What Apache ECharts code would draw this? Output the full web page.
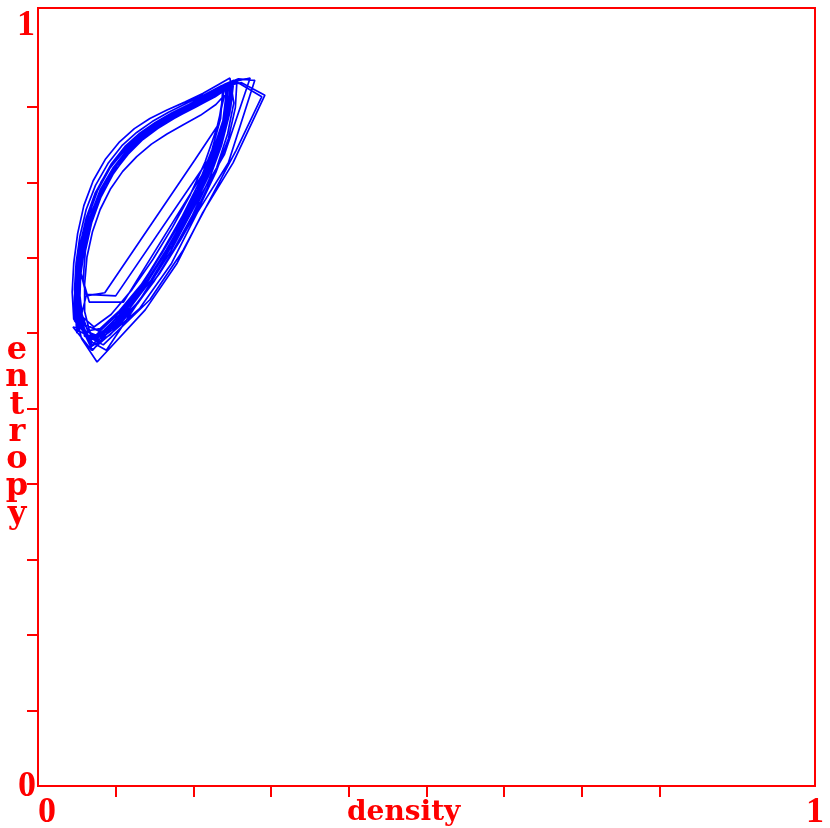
<!DOCTYPE html>
<html><head><meta charset="utf-8">
<script src="https://cdn.jsdelivr.net/npm/echarts@6/dist/echarts.min.js"></script>
<style>html,body{margin:0;padding:0;background:#fff}#c{width:830px;height:828px}</style>
</head><body><div id="c"></div>
<script>
const xTickValues = [0.1, 0.2, 0.3, 0.4, 0.5, 0.6, 0.7, 0.8];
const yTickValues = [0.097, 0.194, 0.291, 0.388, 0.485, 0.582, 0.679, 0.776, 0.873];
const xEndLabels = ['0', '1'];
const yEndLabels = ['0', '1'];
const xAxisName = 'density';
const yAxisName = 'entropy';
// [density, entropy] trajectory
const trajectory = [
[0.054,0.590],[0.051,0.620],[0.052,0.655],[0.058,0.692],[0.066,0.728],[0.079,0.762],[0.096,0.792],[0.114,0.816],[0.130,0.834],[0.148,0.847],[0.169,0.860],[0.190,0.869],[0.207,0.878],[0.230,0.891],[0.245,0.900],
[0.240,0.860],[0.227,0.815],[0.209,0.772],[0.186,0.729],[0.160,0.686],[0.133,0.642],[0.102,0.607],[0.078,0.585],
[0.046,0.600],[0.044,0.635],[0.046,0.672],[0.051,0.710],[0.059,0.746],[0.071,0.778],[0.087,0.806],[0.105,0.828],[0.124,0.845],[0.144,0.858],[0.166,0.869],[0.189,0.879],[0.212,0.890],[0.233,0.902],[0.247,0.910],
[0.252,0.878],[0.244,0.838],[0.230,0.795],[0.209,0.750],[0.184,0.705],[0.157,0.660],[0.128,0.620],[0.098,0.588],[0.076,0.572],
[0.058,0.595],[0.054,0.630],[0.055,0.664],[0.061,0.700],[0.070,0.735],[0.083,0.768],[0.100,0.797],[0.118,0.821],[0.136,0.839],[0.155,0.852],[0.177,0.865],[0.200,0.876],[0.222,0.888],[0.240,0.902],[0.252,0.907],
[0.248,0.872],[0.236,0.828],[0.219,0.783],[0.197,0.738],[0.172,0.694],[0.146,0.651],[0.118,0.614],[0.090,0.584],[0.068,0.578],
[0.060,0.610],[0.060,0.645],[0.063,0.680],[0.070,0.712],[0.080,0.741],[0.093,0.767],[0.109,0.790],[0.127,0.809],[0.146,0.825],[0.166,0.838],[0.187,0.850],[0.209,0.862],[0.229,0.876],[0.240,0.888],
[0.230,0.845],[0.215,0.802],[0.196,0.760],[0.173,0.718],[0.148,0.677],[0.121,0.638],[0.094,0.606],[0.072,0.590],
[0.049,0.610],[0.048,0.640],[0.051,0.674],[0.057,0.708],[0.066,0.741],[0.078,0.770],[0.093,0.795],[0.110,0.815],[0.128,0.832],[0.147,0.846],[0.167,0.857],[0.188,0.867],[0.209,0.876],[0.228,0.886],[0.243,0.896],
[0.238,0.855],[0.223,0.810],[0.205,0.766],[0.182,0.723],[0.157,0.681],[0.130,0.640],[0.100,0.604],[0.075,0.580],[0.060,0.578],
[0.056,0.598],[0.052,0.632],[0.053,0.667],[0.058,0.703],[0.066,0.738],[0.078,0.770],[0.094,0.799],[0.112,0.822],[0.131,0.839],[0.151,0.853],[0.172,0.865],[0.194,0.876],[0.216,0.888],[0.236,0.899],[0.262,0.904],
[0.292,0.888],[0.251,0.801],[0.212,0.737],[0.179,0.672],[0.138,0.612],[0.076,0.545],[0.056,0.575],
[0.050,0.600],[0.049,0.630],[0.050,0.662],[0.055,0.697],[0.063,0.731],[0.075,0.764],[0.091,0.792],[0.109,0.815],[0.127,0.833],[0.146,0.847],[0.166,0.859],[0.188,0.870],[0.210,0.881],[0.232,0.894],[0.250,0.903],
[0.247,0.866],[0.236,0.823],[0.220,0.779],[0.199,0.734],[0.175,0.690],[0.149,0.648],[0.120,0.610],[0.093,0.580],[0.070,0.566],
[0.046,0.612],[0.052,0.645],[0.057,0.680],[0.064,0.713],[0.073,0.744],[0.086,0.773],[0.102,0.798],[0.120,0.819],[0.139,0.836],[0.159,0.849],[0.180,0.861],[0.202,0.872],[0.224,0.884],[0.241,0.895],
[0.244,0.866],[0.233,0.824],[0.216,0.780],[0.194,0.736],[0.168,0.692],[0.141,0.650],[0.112,0.612],[0.085,0.586],[0.066,0.572],
[0.049,0.605],[0.047,0.638],[0.049,0.672],[0.054,0.707],[0.062,0.741],[0.074,0.772],[0.090,0.800],[0.108,0.823],[0.127,0.840],[0.147,0.854],[0.168,0.866],[0.190,0.877],[0.213,0.888],[0.236,0.900],[0.258,0.909],
[0.279,0.907],[0.245,0.801],[0.205,0.737],[0.172,0.672],[0.131,0.614],[0.069,0.560],[0.045,0.590],
[0.055,0.588],[0.053,0.618],[0.054,0.650],[0.059,0.686],[0.067,0.722],[0.080,0.757],[0.097,0.788],[0.116,0.812],[0.135,0.831],[0.154,0.845],[0.175,0.858],[0.197,0.870],[0.219,0.882],[0.238,0.894],[0.250,0.902],
[0.244,0.868],[0.232,0.826],[0.220,0.806],[0.100,0.630],[0.062,0.632],
[0.055,0.660],[0.059,0.695],[0.068,0.731],[0.081,0.764],[0.098,0.793],[0.116,0.817],[0.134,0.835],[0.152,0.849],[0.173,0.861],[0.195,0.872],[0.217,0.884],[0.236,0.897],[0.248,0.905],
[0.243,0.866],[0.230,0.821],[0.212,0.776],[0.190,0.732],[0.165,0.689],[0.138,0.646],[0.108,0.609],[0.082,0.582],[0.069,0.565],
[0.053,0.605],[0.051,0.640],[0.053,0.676],[0.059,0.712],[0.068,0.746],[0.081,0.776],[0.098,0.803],[0.117,0.825],[0.137,0.841],[0.158,0.854],[0.180,0.866],[0.203,0.877],[0.226,0.890],[0.244,0.903],[0.256,0.906],
[0.254,0.872],[0.245,0.832],[0.229,0.789],[0.208,0.745],[0.183,0.701],[0.156,0.658],[0.126,0.619],[0.097,0.590],[0.074,0.575],
[0.052,0.585],[0.050,0.615],[0.051,0.648],[0.056,0.684],[0.064,0.720],[0.076,0.755],[0.092,0.786],[0.111,0.811],[0.131,0.830],[0.151,0.845],[0.172,0.858],[0.194,0.869],[0.216,0.881],[0.238,0.896],[0.255,0.906],
[0.273,0.910],[0.240,0.812],[0.203,0.748],[0.170,0.686],[0.133,0.628],[0.088,0.560],[0.070,0.570],
[0.053,0.598],[0.050,0.628],[0.053,0.660],[0.058,0.696],[0.067,0.732],[0.080,0.766],[0.097,0.795],[0.116,0.819],[0.135,0.836],[0.155,0.850],[0.176,0.862],[0.198,0.873],[0.220,0.885],[0.238,0.898],
[0.235,0.858],[0.224,0.818],[0.207,0.775],[0.185,0.731],[0.161,0.689],[0.135,0.647],[0.105,0.611],[0.080,0.588],[0.064,0.585],
[0.050,0.625],[0.052,0.660],[0.057,0.697],[0.065,0.733],[0.077,0.766],[0.093,0.795],[0.111,0.819],[0.130,0.837],[0.150,0.851],[0.171,0.863],[0.193,0.874],[0.215,0.885],[0.237,0.897],[0.256,0.905],
[0.288,0.886],[0.255,0.817],[0.221,0.753],[0.187,0.689],[0.144,0.625],[0.084,0.567],[0.060,0.580],
[0.054,0.600],[0.052,0.634],[0.054,0.668],[0.060,0.704],[0.069,0.738],[0.082,0.769],[0.099,0.797],[0.118,0.820],[0.137,0.837],[0.157,0.851],[0.178,0.863],[0.201,0.874],[0.223,0.886],[0.242,0.899],
[0.241,0.864],[0.229,0.824],[0.214,0.790],[0.110,0.622],[0.066,0.622],
[0.058,0.650],[0.061,0.688],[0.069,0.724],[0.081,0.757],[0.097,0.787],[0.115,0.812],[0.134,0.831],[0.153,0.846],[0.174,0.859],[0.196,0.870],[0.219,0.883],[0.239,0.896],[0.251,0.904],
[0.246,0.868],[0.233,0.823],[0.215,0.778],[0.192,0.733],[0.167,0.690],[0.140,0.648],[0.110,0.610],[0.086,0.578],[0.070,0.560],
[0.051,0.600],[0.049,0.635],[0.051,0.670],[0.057,0.706],[0.066,0.740],[0.079,0.772],[0.095,0.800],[0.114,0.823],[0.133,0.840],[0.153,0.853],[0.175,0.865],[0.198,0.876],[0.221,0.888],[0.240,0.899],
[0.232,0.850],[0.202,0.805],[0.086,0.634],[0.062,0.630],
[0.050,0.582],[0.048,0.612],[0.050,0.646],[0.055,0.683],[0.063,0.719],[0.075,0.753],[0.091,0.784],[0.109,0.809],[0.128,0.829],[0.148,0.844],[0.169,0.857],[0.191,0.868],[0.213,0.879],[0.234,0.892],[0.247,0.901],
[0.244,0.862],[0.231,0.818],[0.213,0.774],[0.191,0.731],[0.166,0.688],[0.139,0.645],[0.109,0.606],[0.084,0.580],[0.066,0.575],
[0.047,0.598],[0.047,0.628],[0.049,0.660],[0.054,0.695],[0.062,0.730],[0.074,0.763],[0.090,0.791],[0.108,0.814],[0.126,0.832],[0.145,0.846],[0.166,0.858],[0.188,0.868],[0.211,0.879],[0.233,0.891],[0.249,0.903],
[0.238,0.850],[0.225,0.812],[0.207,0.769],[0.184,0.726],[0.159,0.684],[0.132,0.643],[0.104,0.605],[0.081,0.577],[0.060,0.585]
];

const RED = '#ff0000';
const BLUE = '#0000ff';
const chart = echarts.init(document.getElementById('c'), null, {renderer: 'canvas'});
const axisCommon = {
  type: 'value', min: 0, max: 1,
  axisLine: {show: true, onZero: false, lineStyle: {color: RED, width: 2}},
  axisLabel: {show: false},
  splitLine: {show: false}
};
chart.setOption({
  animation: false,
  grid: {left: 38, right: 15, top: 8, bottom: 42, show: true, borderColor: RED, borderWidth: 2, backgroundColor: 'transparent'},
  xAxis: Object.assign({}, axisCommon, {
    axisTick: {show: true, inside: false, length: 11, lineStyle: {color: RED, width: 2}, customValues: xTickValues}
  }),
  yAxis: Object.assign({}, axisCommon, {
    axisTick: {show: true, inside: false, length: 11, lineStyle: {color: RED, width: 2}, customValues: yTickValues}
  }),
  series: [{
    type: 'line', data: trajectory, showSymbol: false, silent: true, clip: false,
    lineStyle: {color: BLUE, width: 1.7}
  }]
});

const p00 = chart.convertToPixel({gridIndex: 0}, [0, 0]);
const p11 = chart.convertToPixel({gridIndex: 0}, [1, 1]);
const digitFont = 'bold 36px "Liberation Serif", serif';
const nameFont = '"DejaVu Serif", serif';
const graphics = [
  {type: 'text', x: p00[0] + 9, y: p00[1] + 27, style: {text: xEndLabels[0], font: digitFont, fill: RED, align: 'center', verticalAlign: 'middle'}},
  {type: 'text', x: p11[0], y: p00[1] + 27, style: {text: xEndLabels[1], font: digitFont, fill: RED, align: 'center', verticalAlign: 'middle'}},
  {type: 'text', x: p00[0] - 11, y: p00[1] + 1, style: {text: yEndLabels[0], font: digitFont, fill: RED, align: 'center', verticalAlign: 'middle'}},
  {type: 'text', x: p00[0] - 12, y: p11[1] + 18, style: {text: yEndLabels[1], font: digitFont, fill: RED, align: 'center', verticalAlign: 'middle'}},
  {type: 'text', x: 347, y: p00[1] + 27, style: {text: xAxisName, font: 'bold 28px ' + nameFont, fill: RED, align: 'left', verticalAlign: 'middle'}},
  {type: 'text', x: 17, y: 337, style: {text: yAxisName.split('').join('\n'), font: 'bold 32px ' + nameFont, lineHeight: 27.3, fill: RED, align: 'center', verticalAlign: 'top'}}
];
chart.setOption({graphic: graphics});
</script>
</body></html>
